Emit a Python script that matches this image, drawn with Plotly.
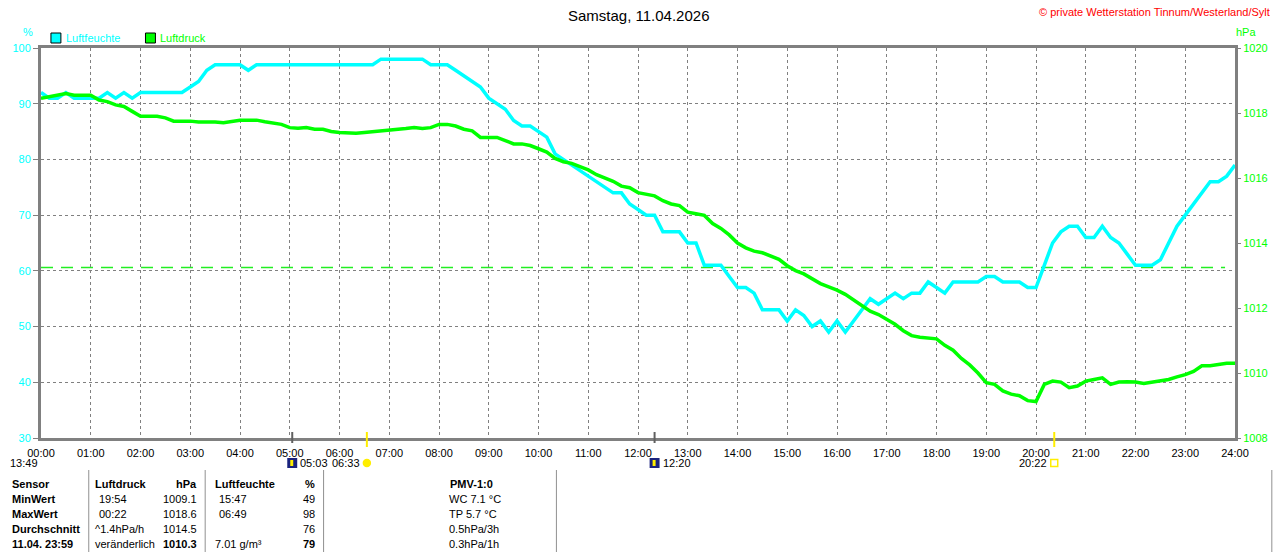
"""
Tagesgang Luftfeuchte / Luftdruck, Wetterstation Tinnum
"""

import plotly.graph_objects as go

# ---- data (10-minute samples, 00:00 .. 24:00) ----

minutes = list(range(0, 1441, 10))

humidity = [
    92, 91, 91, 92, 91, 91,        # 00
    91, 91, 92, 91, 92, 91,        # 01
    92, 92, 92, 92, 92, 92,        # 02
    93, 94, 96, 97, 97, 97,        # 03
    97, 96, 97, 97, 97, 97,        # 04
    97, 97, 97, 97, 97, 97,        # 05
    97, 97, 97, 97, 97, 98,        # 06
    98, 98, 98, 98, 98, 97,        # 07
    97, 97, 96, 95, 94, 93,        # 08
    91, 90, 89, 87, 86, 86,        # 09
    85, 84, 81, 80, 79, 78,        # 10
    77, 76, 75, 74, 74, 72,        # 11
    71, 70, 70, 67, 67, 67,        # 12
    65, 65, 61, 61, 61, 59,        # 13
    57, 57, 56, 53, 53, 53,        # 14
    51, 53, 52, 50, 51, 49,        # 15
    51, 49, 51, 53, 55, 54,        # 16
    55, 56, 55, 56, 56, 58,        # 17
    57, 56, 58, 58, 58, 58,        # 18
    59, 59, 58, 58, 58, 57,        # 19
    57, 61, 65, 67, 68, 68,        # 20
    66, 66, 68, 66, 65, 63,        # 21
    61, 61, 61, 62, 65, 68,        # 22
    70, 72, 74, 76, 76, 77,        # 23
    79,
]

pressure = [
    1018.45, 1018.5, 1018.55, 1018.6, 1018.55, 1018.55,     # 00
    1018.55, 1018.4, 1018.35, 1018.25, 1018.2, 1018.05,     # 01
    1017.9, 1017.9, 1017.9, 1017.85, 1017.75, 1017.75,      # 02
    1017.75, 1017.72, 1017.73, 1017.72, 1017.7, 1017.75,    # 03
    1017.78, 1017.78, 1017.78, 1017.73, 1017.7, 1017.65,    # 04
    1017.55, 1017.53, 1017.55, 1017.5, 1017.5, 1017.43,     # 05
    1017.4, 1017.38, 1017.38, 1017.4, 1017.42, 1017.45,     # 06
    1017.48, 1017.5, 1017.52, 1017.55, 1017.52, 1017.55,    # 07
    1017.65, 1017.65, 1017.6, 1017.5, 1017.45, 1017.25,     # 08
    1017.25, 1017.25, 1017.15, 1017.05, 1017.05, 1017.0,    # 09
    1016.9, 1016.8, 1016.6, 1016.5, 1016.45, 1016.35,       # 10
    1016.25, 1016.1, 1016.0, 1015.9, 1015.75, 1015.7,       # 11
    1015.55, 1015.5, 1015.45, 1015.3, 1015.2, 1015.15,      # 12
    1014.95, 1014.9, 1014.85, 1014.6, 1014.45, 1014.25,     # 13
    1014.0, 1013.85, 1013.75, 1013.7, 1013.6, 1013.5,       # 14
    1013.3, 1013.15, 1013.05, 1012.9, 1012.75, 1012.65,     # 15
    1012.55, 1012.42, 1012.25, 1012.05, 1011.9, 1011.8,     # 16
    1011.65, 1011.5, 1011.3, 1011.15, 1011.1, 1011.07,      # 17
    1011.05, 1010.85, 1010.7, 1010.45, 1010.25, 1010.0,     # 18
    1009.7, 1009.65, 1009.45, 1009.35, 1009.3, 1009.15,     # 19
    1009.12, 1009.65, 1009.75, 1009.72, 1009.55, 1009.6,    # 20
    1009.75, 1009.8, 1009.85, 1009.65, 1009.72, 1009.73,    # 21
    1009.72, 1009.68, 1009.72, 1009.75, 1009.8, 1009.88,    # 22
    1009.95, 1010.05, 1010.22, 1010.22, 1010.25, 1010.3,    # 23
    1010.3,
]

hour_labels = ["%02d:00" % h for h in range(25)]
hum_ticks = [30, 40, 50, 60, 70, 80, 90, 100]
pres_ticks = [1008, 1010, 1012, 1014, 1016, 1018, 1020]
standard_pressure = 1013.25

# sun / moon times shown below the time axis
day_length = "13:49"
moonrise = "05:03"
sunrise = "06:33"
moonset = "12:20"
sunset = "20:22"

# summary table
table_header = ["Sensor", "Luftdruck", "hPa", "Luftfeuchte", "%", "PMV-1:0"]
row_labels = ["MinWert", "MaxWert", "Durchschnitt", "11.04. 23:59"]
pres_info = ["19:54", "00:22", "^1.4hPa/h", "veränderlich"]
pres_value = ["1009.1", "1018.6", "1014.5", "1010.3"]
hum_info = ["15:47", "06:49", "", "7.01 g/m³"]
hum_value = ["49", "98", "76", "79"]
pmv_info = ["WC 7.1 °C", "TP 5.7 °C", "0.5hPa/3h", "0.3hPa/1h"]

# ---- styling ----

CYAN = "#00ffff"
GREEN = "#00ff00"
GRID = "#808080"
FONT = "Liberation Sans, Arial, sans-serif"

L, R, T, B = 40, 1240, 48, 438   # plot area in pixels


def px(x):
    return (x - L) / (R - L)


def py(y):
    return (B - y) / (B - T)


def tx(t):
    h, m = t.split(":")
    return int(h) + int(m) / 60


def label(x, y, text, anchor="center", color="black", size=11):
    return dict(xref="paper", yref="paper", x=px(x), y=py(y), text=text,
                xanchor=anchor, yanchor="middle", showarrow=False,
                font=dict(size=size, color=color))


hours = [m / 60 for m in minutes]

fig = go.Figure()
fig.add_trace(go.Scatter(x=hours, y=pressure, yaxis="y2", mode="lines",
                         line=dict(color=GREEN, width=3.5), showlegend=False))
fig.add_trace(go.Scatter(x=hours, y=humidity, mode="lines",
                         line=dict(color=CYAN, width=3.5), showlegend=False))

shapes = []
annotations = []

# 1013.25 hPa reference line
shapes.append(dict(type="line", xref="x", yref="y2", x0=0, x1=23.8,
                   y0=standard_pressure, y1=standard_pressure, layer="below",
                   line=dict(color="#22ee22", width=1.5, dash="12px,8px")))

# legend
for x0, col, name in [(50, CYAN, "Luftfeuchte"), (145, GREEN, "Luftdruck")]:
    shapes.append(dict(type="rect", xref="paper", yref="paper",
                       x0=px(x0), x1=px(x0 + 10), y0=py(43), y1=py(33),
                       fillcolor=col, line=dict(color="black", width=1)))
    annotations.append(label(x0 + 13, 38, name, "left", col))

annotations += [
    label(641, 15, "Samstag, 11.04.2026", size=15),
    label(1277, 12, "© private Wetterstation Tinnum/Westerland/Sylt", "right", "red"),
    label(27, 32, "%", color=CYAN),
    label(1251, 32, "hPa", color=GREEN),
]

# sun / moon markers on the time axis
for t, col, low in [(moonrise, "#606060", 443), (sunrise, "#ffee00", 447),
                    (moonset, "#606060", 443), (sunset, "#ffee00", 447)]:
    shapes.append(dict(type="line", xref="x", yref="paper", x0=tx(t), x1=tx(t),
                       y0=py(432), y1=py(low), line=dict(color=col, width=2)))

row_y = 463
# day length
annotations.append(label(39, row_y, day_length, "right"))
shapes.append(dict(type="path", xref="paper", yref="paper",
                   path="M %f,%f A 1 1 0 0 1 %f,%f Z" % (px(41), py(467), px(49), py(467)),
                   fillcolor="#ffee00", line=dict(color="#ffee00", width=1)))
# moon rise / set boxes
for t in [moonrise, moonset]:
    xc = L + 50 * tx(t)
    shapes.append(dict(type="rect", xref="paper", yref="paper", x0=px(xc - 5), x1=px(xc + 5),
                       y0=py(468), y1=py(458), fillcolor="#1a237e", line=dict(width=0)))
    shapes.append(dict(type="rect", xref="paper", yref="paper", x0=px(xc - 2), x1=px(xc + 1),
                       y0=py(466), y1=py(460), fillcolor="#ffee00", line=dict(width=0)))
    annotations.append(label(xc + 6, row_y, t, "left"))
# sunrise / sunset
for t, filled in [(sunrise, True), (sunset, False)]:
    xc = L + 50 * tx(t)
    shapes.append(dict(type="circle" if filled else "rect", xref="paper", yref="paper",
                       x0=px(xc - 3.5), x1=px(xc + 3.5), y0=py(466.5), y1=py(459.5),
                       fillcolor="#ffee00" if filled else "white",
                       line=dict(color="#ffee00", width=1.5)))
    annotations.append(label(xc - 5, row_y, t, "right"))

# summary table
for xs in [88, 205, 324, 558, 1277]:
    shapes.append(dict(type="line", xref="paper", yref="paper", x0=px(xs), x1=px(xs),
                       y0=py(470), y1=py(560), line=dict(color="#909090", width=1)))

row0, row_step = 484, 15
col_x = [(9, "left"), (92, "left"), (199, "right"), (213, "left"), (317, "right"), (473, "center")]
for (x, anchor), text in zip(col_x, table_header):
    annotations.append(label(x, row0, "<b>%s</b>" % text, anchor))

val_x = [(9, "left"), (96, "left"), (199, "right"), (217, "left"), (317, "right"), (448, "left")]
for i, name in enumerate(row_labels):
    last = i == len(row_labels) - 1
    cells = [
        "<b>%s</b>" % name,
        pres_info[i],
        "<b>%s</b>" % pres_value[i] if last else pres_value[i],
        hum_info[i],
        "<b>%s</b>" % hum_value[i] if last else hum_value[i],
        pmv_info[i],
    ]
    for j, ((x, anchor), text) in enumerate(zip(val_x, cells)):
        if j in (1, 3) and (last or i == 2):
            x -= 4
        annotations.append(label(x, row0 + row_step * (i + 1), text, anchor))

fig.update_layout(
    width=1280, height=552,
    margin=dict(l=L, r=1280 - R, t=T, b=552 - B),
    paper_bgcolor="white", plot_bgcolor="white",
    font=dict(family=FONT, size=11, color="black"),
    showlegend=False,
    xaxis=dict(range=[0, 24], tickvals=list(range(25)), ticktext=hour_labels,
               showgrid=True, gridcolor=GRID, griddash="3px,3px", gridwidth=1,
               showline=True, linecolor=GRID, linewidth=3, mirror=True,
               ticks="outside", ticklen=3, tickcolor="rgba(0,0,0,0)",
               tickfont=dict(size=11, color="black"), zeroline=False),
    yaxis=dict(range=[30, 100], tickvals=hum_ticks,
               showgrid=True, gridcolor=GRID, griddash="3px,3px", gridwidth=1,
               showline=True, linecolor=GRID, linewidth=3, mirror=True,
               ticks="outside", ticklen=5, tickcolor=GRID,
               tickfont=dict(size=11, color=CYAN), zeroline=False),
    yaxis2=dict(range=[1008, 1020], tickvals=pres_ticks, overlaying="y", side="right",
                showgrid=False, showline=False, zeroline=False,
                ticks="outside", ticklen=5, tickcolor=GRID,
                tickfont=dict(size=11, color=GREEN)),
    shapes=shapes,
    annotations=annotations,
)

# the page has an 8px body margin by default; drop it so the figure sits at 0,0
fig.write_html("out.html", config={"displayModeBar": False},
               post_script="document.body.style.margin = '0';")
